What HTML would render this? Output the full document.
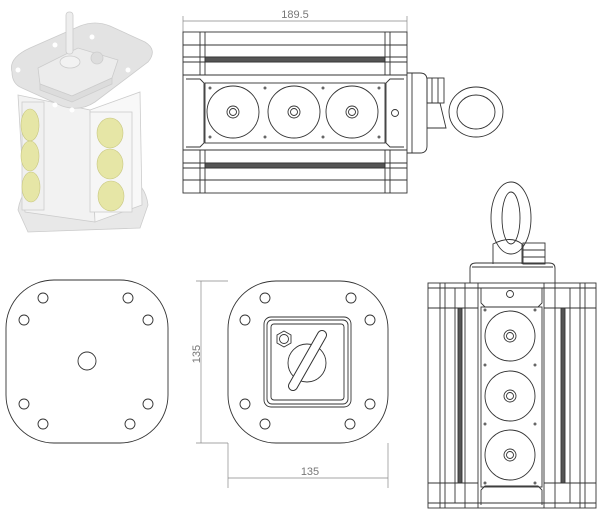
<!DOCTYPE html>
<html><head><meta charset="utf-8"><style>
html,body{margin:0;padding:0;background:#fff;width:600px;height:525px;overflow:hidden}
svg{display:block}
text{font-family:"Liberation Sans",sans-serif;fill:#777;stroke:none}
</style></head><body>
<svg width="600" height="525" viewBox="0 0 600 525" xmlns="http://www.w3.org/2000/svg">
<g fill="none" stroke="#333" stroke-width="0.9">

<!-- ===== 3D view ===== -->
<g stroke="#ccc" stroke-width="0.8">
  <path d="M18 210 Q22 185 45 178 L120 175 Q145 180 148 205 L140 228 L28 232 Z" fill="#e8e8e8"/>
  <path d="M18 95 L90 110 L95 222 L25 212 Z" fill="#f2f2f2"/>
  <path d="M90 110 L140 92 L142 205 L95 222 Z" fill="#f8f8f8"/>
  <path d="M12 72 Q8 58 30 48 L80 26 Q95 20 110 26 L145 42 Q158 50 148 62 L95 102 Q80 112 62 106 L22 88 Q12 84 12 72 Z" fill="#e3e3e3"/>
  <path d="M38 68 L78 48 L118 60 L112 78 L72 96 L40 84 Z" fill="#ececec"/>
  <path d="M40 84 L72 96 L112 78 L112 84 L72 102 L40 90 Z" fill="#dcdcdc"/>
  <rect x="66" y="12" width="7" height="42" rx="3" fill="#eee"/>
  <ellipse cx="70" cy="62" rx="10" ry="6" fill="#f2f2f2"/>
  <circle cx="97" cy="58" r="6" fill="#ddd"/>
  <rect x="22" y="102" width="22" height="108" fill="#f0f0f0"/>
  <rect x="90" y="112" width="42" height="100" fill="#f6f6f6"/>
</g>
<g fill="#e6e6a6" stroke="#c8c780" stroke-width="0.6">
  <ellipse cx="30" cy="125" rx="9" ry="16"/>
  <ellipse cx="30" cy="156" rx="9" ry="15"/>
  <ellipse cx="31" cy="187" rx="9" ry="15"/>
  <ellipse cx="110" cy="133" rx="13" ry="15"/>
  <ellipse cx="110" cy="164" rx="13" ry="15"/>
  <ellipse cx="111" cy="196" rx="13" ry="15"/>
</g>
<g fill="#fff" stroke="none">
  <circle cx="55" cy="45" r="2.5"/><circle cx="92" cy="37" r="2.5"/>
  <circle cx="18" cy="70" r="2.5"/><circle cx="128" cy="70" r="2.5"/>
  <circle cx="55" cy="105" r="2.5"/><circle cx="72" cy="110" r="2.5"/>
</g>

<!-- ===== Top view (189.5) ===== -->
<g stroke="#888" stroke-width="0.7">
  <line x1="183" y1="21" x2="407" y2="21"/>
  <line x1="183" y1="16" x2="183" y2="32"/>
  <line x1="407" y1="16" x2="407" y2="32"/>
</g>
<text x="295" y="18" font-size="11" text-anchor="middle">189.5</text>
<rect x="183" y="32" width="224" height="161"/>
<line x1="183" y1="45" x2="407" y2="45"/>
<line x1="183" y1="57" x2="407" y2="57"/>
<line x1="183" y1="62" x2="407" y2="62"/>
<rect x="205" y="57" width="180" height="5" fill="#555"/>
<line x1="183" y1="75" x2="407" y2="75"/>
<line x1="183" y1="150" x2="407" y2="150"/>
<line x1="183" y1="163" x2="407" y2="163"/>
<rect x="205" y="163" width="180" height="5" fill="#555"/>
<line x1="183" y1="168" x2="407" y2="168"/>
<line x1="183" y1="180" x2="407" y2="180"/>
<line x1="200" y1="32" x2="200" y2="75"/><line x1="205" y1="32" x2="205" y2="75"/>
<line x1="385" y1="32" x2="385" y2="75"/><line x1="390" y1="32" x2="390" y2="75"/>
<line x1="200" y1="150" x2="200" y2="193"/><line x1="205" y1="150" x2="205" y2="193"/>
<line x1="385" y1="150" x2="385" y2="193"/><line x1="390" y1="150" x2="390" y2="193"/>
<path d="M186 79 L200 79 L204 83 L204 143 L200 147 L186 147"/>
<path d="M404 79 L390 79 L386 83 L386 143 L390 147 L404 147"/>
<rect x="205" y="83" width="180" height="60"/>
<g>
  <circle cx="233" cy="112" r="26"/><circle cx="233" cy="112" r="6"/><circle cx="233" cy="112" r="3.5"/>
  <circle cx="294" cy="112" r="26"/><circle cx="294" cy="112" r="6"/><circle cx="294" cy="112" r="3.5"/>
  <circle cx="352" cy="112" r="26"/><circle cx="352" cy="112" r="6"/><circle cx="352" cy="112" r="3.5"/>
  <circle cx="395" cy="113" r="3.5"/>
</g>
<g fill="#666" stroke="none">
  <circle cx="210" cy="88" r="1.5"/><circle cx="265" cy="88" r="1.5"/><circle cx="323" cy="88" r="1.5"/><circle cx="379" cy="88" r="1.5"/>
  <circle cx="210" cy="137" r="1.5"/><circle cx="265" cy="137" r="1.5"/><circle cx="323" cy="137" r="1.5"/><circle cx="379" cy="137" r="1.5"/>
</g>
<path d="M407 73 L420 73 Q427 73 427 80 L427 146 Q427 153 420 153 L407 153"/>
<line x1="412" y1="73" x2="412" y2="153"/>
<rect x="427" y="78" width="17" height="25"/>
<line x1="432" y1="78" x2="432" y2="103"/><line x1="438" y1="78" x2="438" y2="103"/>
<path d="M427 103 L440 103 L446 128 L427 128"/>
<ellipse cx="476" cy="112" rx="27" ry="25"/>
<ellipse cx="476" cy="112" rx="19" ry="17"/>

<!-- ===== Bottom-left plate ===== -->
<rect x="6" y="280" width="162" height="163" rx="48" ry="48"/>
<g>
  <circle cx="43" cy="298" r="5"/><circle cx="128" cy="298" r="5"/>
  <circle cx="24" cy="320" r="5"/><circle cx="148" cy="320" r="5"/>
  <circle cx="24" cy="404" r="5"/><circle cx="148" cy="404" r="5"/>
  <circle cx="43" cy="424" r="5"/><circle cx="130" cy="424" r="5"/>
  <circle cx="87" cy="361" r="9"/>
</g>

<!-- ===== Bottom-middle plate ===== -->
<rect x="228" y="281" width="160" height="162" rx="48" ry="48"/>
<g>
  <circle cx="265" cy="298" r="5"/><circle cx="351" cy="298" r="5"/>
  <circle cx="245" cy="320" r="5"/><circle cx="370" cy="320" r="5"/>
  <circle cx="245" cy="404" r="5"/><circle cx="370" cy="404" r="5"/>
  <circle cx="265" cy="424" r="5"/><circle cx="350" cy="424" r="5"/>
</g>
<rect x="264" y="317" width="87" height="90" rx="7"/>
<rect x="267" y="320" width="81" height="84" rx="5"/>
<rect x="271" y="324" width="73" height="76" rx="3"/>
<polygon points="284,331 291,335 291,343 284,347 277,343 277,335"/>
<circle cx="284" cy="339" r="4.5"/>
<circle cx="307" cy="363" r="19"/>
<line x1="322" y1="335" x2="293" y2="386" stroke="#333" stroke-width="10" stroke-linecap="round"/>
<line x1="322" y1="335" x2="293" y2="386" stroke="#fff" stroke-width="8" stroke-linecap="round"/>
<g stroke="#888" stroke-width="0.7">
  <line x1="196" y1="281" x2="228" y2="281"/>
  <line x1="196" y1="443" x2="228" y2="443"/>
  <line x1="201" y1="281" x2="201" y2="443"/>
  <line x1="228" y1="443" x2="228" y2="488"/>
  <line x1="388" y1="443" x2="388" y2="488"/>
  <line x1="228" y1="478" x2="388" y2="478"/>
</g>
<text x="200" y="354" font-size="11" text-anchor="middle" transform="rotate(-90 200 354)">135</text>
<text x="310" y="475" font-size="11" text-anchor="middle">135</text>

<!-- ===== Right view ===== -->
<ellipse cx="511" cy="218" rx="20" ry="36"/>
<ellipse cx="511" cy="218" rx="9" ry="26"/>
<path d="M493 264 L493 244 Q511 235 522 244 L522 264"/>
<rect x="523" y="243" width="22" height="21"/>
<line x1="523" y1="250" x2="545" y2="250"/><line x1="523" y1="257" x2="545" y2="257"/>
<path d="M470 283 L470 268 Q470 263 476 263 L549 263 Q555 263 555 268 L555 283"/>
<line x1="472" y1="267" x2="553" y2="267"/>
<rect x="428" y="283" width="168" height="225"/>
<line x1="428" y1="288" x2="596" y2="288"/>
<line x1="428" y1="503" x2="596" y2="503"/>
<g>
  <line x1="440" y1="283" x2="440" y2="508"/><line x1="445" y1="283" x2="445" y2="508"/>
  <line x1="455" y1="288" x2="455" y2="503"/>
  <rect x="458" y="308" width="4" height="175" fill="#555"/>
  <line x1="465" y1="283" x2="465" y2="508"/>
  <line x1="478" y1="283" x2="478" y2="508"/>
  <line x1="544" y1="283" x2="544" y2="508"/>
  <line x1="555" y1="283" x2="555" y2="508"/>
  <rect x="561" y="308" width="4" height="175" fill="#555"/>
  <line x1="570" y1="288" x2="570" y2="503"/>
  <line x1="580" y1="283" x2="580" y2="508"/><line x1="585" y1="283" x2="585" y2="508"/>
  <line x1="428" y1="308" x2="478" y2="308"/><line x1="544" y1="308" x2="596" y2="308"/>
  <line x1="428" y1="483" x2="478" y2="483"/><line x1="544" y1="483" x2="596" y2="483"/>
</g>
<path d="M481 288 L481 303 L485 307 L538 307 L542 303 L542 288"/>
<path d="M481 505 L481 490 L485 486 L538 486 L542 490 L542 505"/>
<circle cx="510" cy="294" r="3.5"/>
<rect x="481" y="307" width="61" height="180"/>
<g>
  <circle cx="510" cy="336" r="25"/><circle cx="510" cy="336" r="6"/><circle cx="510" cy="336" r="3.5"/>
  <circle cx="510" cy="396" r="25"/><circle cx="510" cy="396" r="6"/><circle cx="510" cy="396" r="3.5"/>
  <circle cx="510" cy="455" r="25"/><circle cx="510" cy="455" r="6"/><circle cx="510" cy="455" r="3.5"/>
</g>
<g fill="#666" stroke="none">
  <circle cx="485" cy="310" r="1.5"/><circle cx="535" cy="310" r="1.5"/>
  <circle cx="485" cy="365" r="1.5"/><circle cx="535" cy="365" r="1.5"/>
  <circle cx="485" cy="424" r="1.5"/><circle cx="535" cy="424" r="1.5"/>
  <circle cx="485" cy="483" r="1.5"/><circle cx="535" cy="483" r="1.5"/>
</g>
</g>
</svg>
</body></html>
